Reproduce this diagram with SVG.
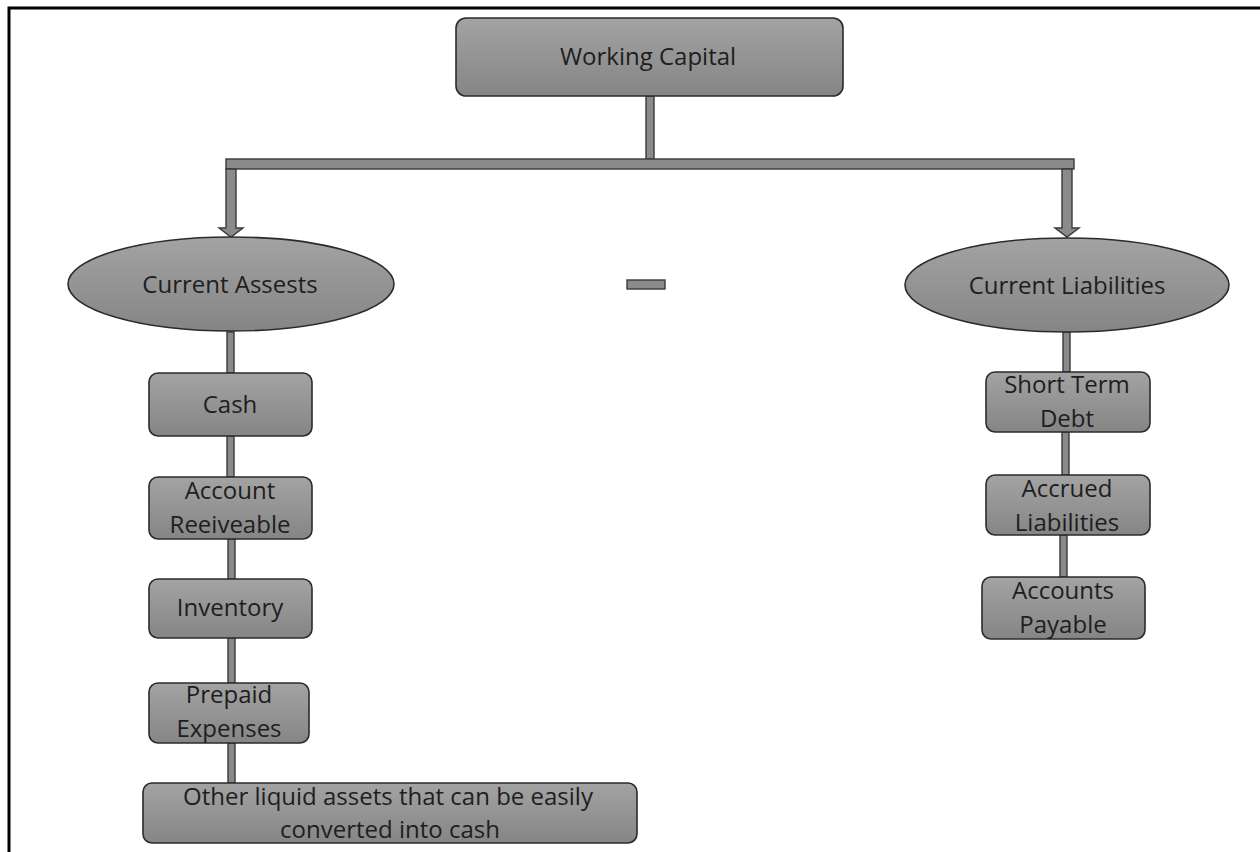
<svg xmlns="http://www.w3.org/2000/svg" width="1260" height="852" viewBox="0 0 1260 852">
<defs>
<linearGradient id="g" x1="0" y1="0" x2="0" y2="1">
<stop offset="0" stop-color="#a3a3a3"/>
<stop offset="1" stop-color="#858585"/>
</linearGradient>
<style>
.n{fill:url(#g);stroke:#2b2b2b;stroke-width:1.6}
.c{fill:#8a8a8a;stroke:#3a3a3a;stroke-width:1.4}
.t{font-family:"Open Sans","Noto Sans",sans-serif;font-size:24px;fill:#1e1e1e;text-anchor:middle}
</style>
</defs>
<rect width="1260" height="852" fill="#fff"/>
<path d="M9 852 V8 H1260" fill="none" stroke="#000" stroke-width="3"/>
<g id="connectors">
<rect class="c" x="646" y="96" width="8" height="63"/>
<rect class="c" x="226" y="159" width="848" height="10"/>
<polygon class="c" points="226,169 236,169 236,228 243,228 231,237 219,228 226,228"/>
<polygon class="c" points="1062,169 1072,169 1072,228 1079,228 1067,237 1055,228 1062,228"/>
<rect class="c" x="627" y="280" width="38" height="9"/>
<rect class="c" x="227" y="332" width="7" height="41"/>
<rect class="c" x="227" y="436" width="7" height="41"/>
<rect class="c" x="228" y="539" width="7" height="40"/>
<rect class="c" x="228" y="638" width="7" height="45"/>
<rect class="c" x="228" y="743" width="7" height="40"/>
<rect class="c" x="1063" y="332" width="7" height="40"/>
<rect class="c" x="1062" y="432" width="7" height="43"/>
<rect class="c" x="1060" y="535" width="7" height="42"/>
</g>
<g id="working-capital">
<rect class="n" x="456" y="18" width="387" height="78" rx="10"/>
<text class="t" x="648" y="65">Working Capital</text>
</g>
<g id="current-assets">
<ellipse class="n" cx="231" cy="284" rx="163" ry="47"/>
<text class="t" x="230" y="293">Current Assests</text>
</g>
<g id="current-liabilities">
<ellipse class="n" cx="1067" cy="285" rx="162" ry="47"/>
<text class="t" x="1067" y="294">Current Liabilities</text>
</g>
<g id="cash">
<rect class="n" x="149" y="373" width="163" height="63" rx="9"/>
<text class="t" x="230" y="413">Cash</text>
</g>
<g id="account-receivable">
<rect class="n" x="149" y="477" width="163" height="62" rx="9"/>
<text class="t" x="230" y="499">Account</text>
<text class="t" x="230" y="533">Reeiveable</text>
</g>
<g id="inventory">
<rect class="n" x="149" y="579" width="163" height="59" rx="9"/>
<text class="t" x="230" y="616">Inventory</text>
</g>
<g id="prepaid-expenses">
<rect class="n" x="149" y="683" width="160" height="60" rx="9"/>
<text class="t" x="229" y="703">Prepaid</text>
<text class="t" x="229" y="737">Expenses</text>
</g>
<g id="other-liquid-assets">
<rect class="n" x="143" y="783" width="494" height="60" rx="9"/>
<text class="t" x="388" y="805">Other liquid assets that can be easily</text>
<text class="t" x="390" y="838">converted into cash</text>
</g>
<g id="short-term-debt">
<rect class="n" x="986" y="372" width="164" height="60" rx="9"/>
<text class="t" x="1067" y="393">Short Term</text>
<text class="t" x="1067" y="427">Debt</text>
</g>
<g id="accrued-liabilities">
<rect class="n" x="986" y="475" width="164" height="60" rx="9"/>
<text class="t" x="1067" y="497">Accrued</text>
<text class="t" x="1067" y="531">Liabilities</text>
</g>
<g id="accounts-payable">
<rect class="n" x="982" y="577" width="163" height="62" rx="9"/>
<text class="t" x="1063" y="599">Accounts</text>
<text class="t" x="1063" y="633">Payable</text>
</g>
</svg>
